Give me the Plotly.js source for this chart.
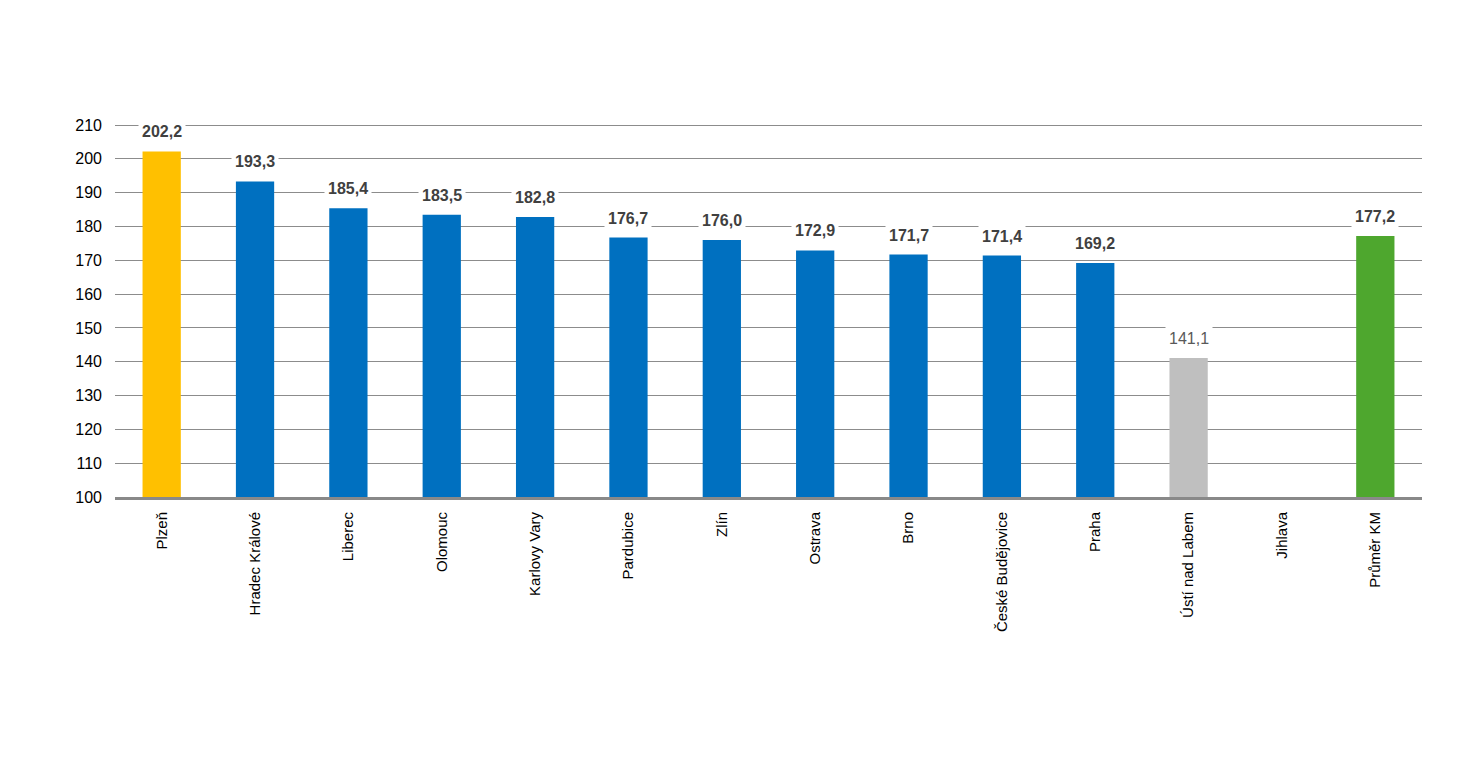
<!DOCTYPE html>
<html><head><meta charset="utf-8">
<script src="https://cdn.plot.ly/plotly-3.0.1.min.js"></script>
<style>body{margin:0;background:#fff}#c{width:1480px;height:780px}</style>
</head><body><div id="c"></div>
<script>
const categories = ["Plzeň","Hradec Králové","Liberec","Olomouc","Karlovy Vary","Pardubice","Zlín","Ostrava","Brno","České Budějovice","Praha","Ústí nad Labem","Jihlava","Průměr KM"];
const values = [202.2,193.3,185.4,183.5,182.8,176.7,176.0,172.9,171.7,171.4,169.2,141.1,null,177.2];
const colors = ["#FFC000","#0070C0","#0070C0","#0070C0","#0070C0","#0070C0","#0070C0","#0070C0","#0070C0","#0070C0","#0070C0","#BFBFBF","#0070C0","#4EA72E"];
const labelBold = [true,true,true,true,true,true,true,true,true,true,true,false,false,true];
const tickValues = [100,110,120,130,140,150,160,170,180,190,200,210];

const fmt = v => v.toFixed(1).replace('.', ',');
const annotations = [];
categories.forEach((c,i)=>{
  if (values[i]==null) return;
  annotations.push({x:c, y:values[i], xref:'x', yref:'y', yanchor:'bottom', yshift:7,
    text: labelBold[i] ? '<b>'+fmt(values[i])+'</b>' : fmt(values[i]),
    showarrow:false, bgcolor:'#fff', borderpad:3,
    font:{family:'Liberation Sans, Arial, sans-serif', size:16, color: labelBold[i] ? '#404040' : '#595959'}});
});

Plotly.newPlot('c', [{
  type:'bar', x:categories, y:values.map(v=>v==null?null:v-100), base:100,
  marker:{color:colors}, hoverinfo:'skip'
}], {
  width:1480, height:780,
  margin:{l:115, r:58, t:124, b:283},
  paper_bgcolor:'#fff', plot_bgcolor:'#fff',
  showlegend:false,
  bargap:0.59,
  xaxis:{type:'category', tickangle:-90, showgrid:false, showline:true, linecolor:'#898989', linewidth:3,
    ticks:'', ticklabelstandoff:6, tickfont:{family:'Liberation Sans, Arial, sans-serif', size:15, color:'#000'}, automargin:false},
  yaxis:{range:[100,210.3], tickvals:tickValues, showgrid:true, gridcolor:'#8c8c8c', gridwidth:1,
    zeroline:false, showline:false, ticks:'', ticklabelstandoff:12,
    tickfont:{family:'Liberation Sans, Arial, sans-serif', size:16, color:'#000'}, automargin:false},
  annotations: annotations
}, {displayModeBar:false, staticPlot:true});
</script></body></html>
